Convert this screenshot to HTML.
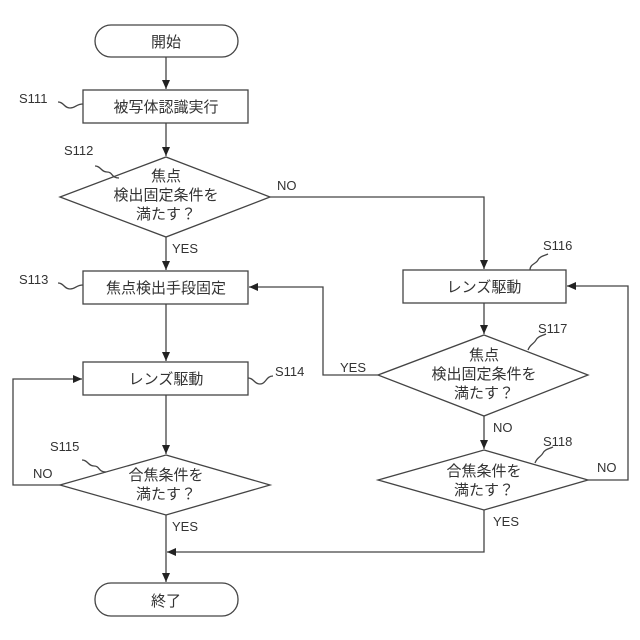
<!DOCTYPE html>
<html><head><meta charset="utf-8"><style>
html,body{margin:0;padding:0;background:#fff;}
svg{display:block;}
text{font-family:"Liberation Sans","Noto Sans CJK JP",sans-serif;fill:#333;}
.j{font-size:15px;text-anchor:middle;}
.l{font-size:13px;}
</style></head><body>
<svg width="640" height="640" viewBox="0 0 640 640" xmlns="http://www.w3.org/2000/svg">
<defs><marker id="a" markerWidth="10" markerHeight="10" refX="9" refY="5" orient="auto" markerUnits="userSpaceOnUse"><path d="M0,1 L9,5 L0,9 Z" fill="#222"/></marker></defs>
<g stroke="#444" stroke-width="1.3" fill="none">
<rect x="95" y="25" width="143" height="32" rx="16"/>
<rect x="83" y="90" width="165" height="33"/>
<polygon points="166,157 270,197 166,237 60,197"/>
<rect x="83" y="271" width="165" height="33"/>
<rect x="83" y="362" width="165" height="33"/>
<polygon points="166,455 270,485 166,515 60,485"/>
<rect x="95" y="583" width="143" height="33" rx="16"/>
<rect x="403" y="270" width="163" height="33"/>
<polygon points="484,335 588,375 484,416 378,375"/>
<polygon points="484,450 588,480 484,510 378,480"/>
<!-- connectors -->
<path d="M166,57 V89" marker-end="url(#a)"/>
<path d="M166,123 V156" marker-end="url(#a)"/>
<path d="M166,237 V270" marker-end="url(#a)"/>
<path d="M166,304 V361" marker-end="url(#a)"/>
<path d="M166,395 V454" marker-end="url(#a)"/>
<path d="M166,515 V582" marker-end="url(#a)"/>
<path d="M270,197 H484 V269" marker-end="url(#a)"/>
<path d="M484,303 V334" marker-end="url(#a)"/>
<path d="M484,416 V449" marker-end="url(#a)"/>
<path d="M378,375 H323 V287 H249" marker-end="url(#a)"/>
<path d="M588,480 H628 V286 H567" marker-end="url(#a)"/>
<path d="M484,510 V552 H167" marker-end="url(#a)"/>
<path d="M60,485 H13 V379 H82" marker-end="url(#a)"/>
<!-- squiggles -->
<path d="M58,102 c6,0 6,6 12,6 c6,0 6,-4 13,-4"/>
<path d="M95,166 c6,0 6,6 12,6 c6,0 4,6 12,6"/>
<path d="M58,283 c6,0 6,6 12,6 c6,0 6,-4 13,-4"/>
<path d="M248,378 c6,0 6,6 12,6 c6,0 6,-8 13,-8"/>
<path d="M82,460 c6,0 6,6 12,6 c6,0 4,6 12,6"/>
<path d="M530,270 c0,-6 6,-6 8,-10 c2,-4 6,-4 10,-6"/>
<path d="M528,350 c2,-6 6,-6 8,-10 c2,-4 6,-4 10,-6"/>
<path d="M535,463 c2,-6 6,-6 8,-10 c2,-4 6,-4 10,-6"/>
</g>
<text class="j" x="166" y="47">開始</text>
<text class="j" x="166" y="112">被写体認識実行</text>
<text class="j" x="166" y="181">焦点</text>
<text class="j" x="166" y="200">検出固定条件を</text>
<text class="j" x="166" y="219">満たす？</text>
<text class="j" x="166" y="293">焦点検出手段固定</text>
<text class="j" x="166" y="384">レンズ駆動</text>
<text class="j" x="166" y="480">合焦条件を</text>
<text class="j" x="166" y="499">満たす？</text>
<text class="j" x="166" y="606">終了</text>
<text class="j" x="484" y="292">レンズ駆動</text>
<text class="j" x="484" y="360">焦点</text>
<text class="j" x="484" y="379">検出固定条件を</text>
<text class="j" x="484" y="398">満たす？</text>
<text class="j" x="484" y="476">合焦条件を</text>
<text class="j" x="484" y="495">満たす？</text>
<text class="l" x="19" y="103">S111</text>
<text class="l" x="64" y="155">S112</text>
<text class="l" x="19" y="284">S113</text>
<text class="l" x="275" y="376">S114</text>
<text class="l" x="50" y="451">S115</text>
<text class="l" x="543" y="250">S116</text>
<text class="l" x="538" y="333">S117</text>
<text class="l" x="543" y="446">S118</text>
<text class="l" x="277" y="190">NO</text>
<text class="l" x="172" y="253">YES</text>
<text class="l" x="340" y="372">YES</text>
<text class="l" x="493" y="432">NO</text>
<text class="l" x="597" y="472">NO</text>
<text class="l" x="493" y="526">YES</text>
<text class="l" x="33" y="478">NO</text>
<text class="l" x="172" y="531">YES</text>
</svg>
</body></html>
